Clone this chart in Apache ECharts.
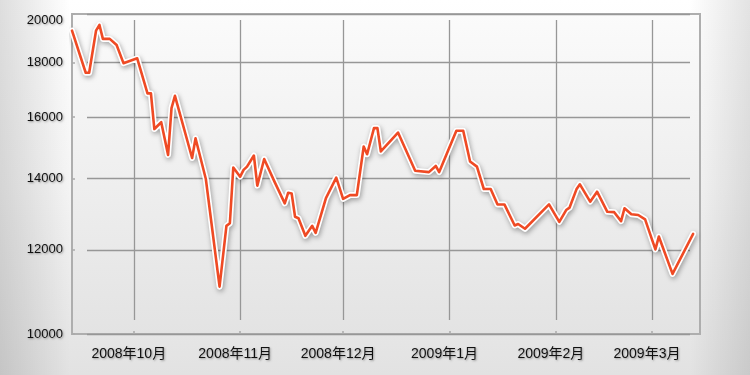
<!DOCTYPE html>
<html>
<head>
<meta charset="utf-8">
<script src="https://cdn.jsdelivr.net/npm/echarts@6/dist/echarts.min.js"></script>
<style>
  html, body { margin: 0; padding: 0; background: #fff; }
  #chart { width: 750px; height: 375px; }
</style>
</head>
<body>
<div id="chart"></div>
<script>
// ---- data ----
const dates = [
  '2008-09-13','2008-09-17','2008-09-18','2008-09-20','2008-09-21','2008-09-22','2008-09-24','2008-09-26','2008-09-28',
  '2008-10-02','2008-10-05','2008-10-06','2008-10-07','2008-10-09','2008-10-11','2008-10-12','2008-10-13','2008-10-18',
  '2008-10-19','2008-10-22','2008-10-26','2008-10-28','2008-10-29','2008-10-30',
  '2008-11-01','2008-11-02','2008-11-03','2008-11-05','2008-11-06','2008-11-08','2008-11-11','2008-11-14','2008-11-15',
  '2008-11-16','2008-11-17','2008-11-18','2008-11-20','2008-11-22','2008-11-23','2008-11-26','2008-11-29',
  '2008-12-01','2008-12-03','2008-12-05','2008-12-07','2008-12-08','2008-12-10','2008-12-11','2008-12-12','2008-12-17',
  '2008-12-22','2008-12-26','2008-12-28','2008-12-29',
  '2009-01-03','2009-01-05','2009-01-07','2009-01-09','2009-01-11','2009-01-13','2009-01-15','2009-01-17','2009-01-20',
  '2009-01-21','2009-01-23','2009-01-30',
  '2009-02-02','2009-02-04','2009-02-05','2009-02-07','2009-02-08','2009-02-11','2009-02-13','2009-02-16','2009-02-18',
  '2009-02-20','2009-02-21','2009-02-23','2009-02-25','2009-02-27',
  '2009-03-02','2009-03-03','2009-03-07','2009-03-13'
];
const values = [
  19290,17610,17610,19290,19530,18950,18950,18700,17980,
  18170,16840,16840,15590,15820,14740,16310,16750,14640,
  15280,13990,11080,12640,12710,14340,
  14060,14270,14370,14720,13790,14610,13910,13270,13580,
  13560,12890,12850,12370,12640,12450,13420,14030,
  13400,13510,13510,15010,14760,15620,15620,14850,15470,
  14240,14200,14390,14200,
  15530,15530,14530,14370,13690,13690,13240,13240,12650,
  12690,12560,13240,
  12750,13080,13150,13680,13830,13320,13610,13030,13020,
  12770,13130,12960,12940,12820,
  12010,12350,11390,12420
];
const monthTicks = ['2008-10-01','2008-11-01','2008-12-01','2009-01-01','2009-02-01','2009-03-01'];
const yTicks = [10000, 12000, 14000, 16000, 18000, 20000];
const xRange = ['2008-09-13', '2009-03-15'];
const yRange = [10000, 20000];

// ---- helpers ----
function t(s) { const p = s.split('-').map(Number); return new Date(p[0], p[1] - 1, p[2]).getTime(); }
const seriesData = dates.map((d, i) => [t(d), values[i]]);
const monthVals = monthTicks.map(t);
const FONT = '"Liberation Sans", "Noto Sans CJK JP", sans-serif';
const labelShadow = { textShadowColor: 'rgba(0,0,0,0.35)', textShadowBlur: 2, textShadowOffsetX: 1, textShadowOffsetY: 1 };

const chart = echarts.init(document.getElementById('chart'), null, { renderer: 'canvas' });
chart.setOption({
  animation: false,
  backgroundColor: new echarts.graphic.LinearGradient(0, 0, 0, 1, [
    { offset: 0, color: '#ffffff' }, { offset: 0.5, color: '#f4f4f4' }, { offset: 1, color: '#e2e2e2' }
  ]),
  graphic: [
    { type: 'rect', left: 0, top: 0, shape: { width: 70, height: 375 }, silent: true, z: -10,
      style: { fill: new echarts.graphic.LinearGradient(0, 0, 1, 0, [
        { offset: 0, color: 'rgba(0,0,0,0.13)' }, { offset: 1, color: 'rgba(0,0,0,0)' }]) } },
    { type: 'rect', right: 0, top: 0, shape: { width: 60, height: 375 }, silent: true, z: -10,
      style: { fill: new echarts.graphic.LinearGradient(1, 0, 0, 0, [
        { offset: 0, color: 'rgba(0,0,0,0.11)' }, { offset: 1, color: 'rgba(0,0,0,0)' }]) } }
  ],
  grid: [
    { left: 72, right: 50, top: 14, bottom: 41, show: true, borderColor: '#aeaeae', borderWidth: 2,
      backgroundColor: new echarts.graphic.LinearGradient(0, 0, 0, 1, [
        { offset: 0, color: '#fbfbfb' }, { offset: 1, color: '#e3e3e3' }]) },
    { left: 72, right: 50, top: 20, bottom: 55 },
    { left: 87, right: 60, top: 14, bottom: 41 }
  ],
  xAxis: [
    { type: 'value', gridIndex: 0, min: t(xRange[0]), max: t(xRange[1]),
      axisLine: { show: false },
      axisTick: { show: true, inside: true, length: 3, customValues: monthVals, lineStyle: { color: '#aaa', width: 1.5 } },
      splitLine: { show: false },
      axisLabel: { customValues: monthVals, fontSize: 14, fontFamily: FONT, color: '#111', margin: 13,
        padding: [0, 10, 0, 0], ...labelShadow,
        formatter: v => { const d = new Date(v); return d.getFullYear() + '年' + (d.getMonth() + 1) + '月'; } } },
    { type: 'value', gridIndex: 1, min: t(xRange[0]), max: t(xRange[1]),
      axisLine: { show: false }, axisLabel: { show: false },
      axisTick: { show: false, customValues: monthVals },
      splitLine: { show: true, lineStyle: { color: '#979797', width: 1.3 } } },
    { type: 'value', gridIndex: 2, min: 0, max: 1, show: false, splitLine: { show: false } }
  ],
  yAxis: [
    { type: 'log', logBase: 10, gridIndex: 0, min: yRange[0], max: yRange[1],
      axisLine: { show: false },
      axisTick: { show: true, inside: true, length: 3, customValues: yTicks, lineStyle: { color: '#aaa', width: 1.5 } },
      splitLine: { show: false },
      axisLabel: { customValues: yTicks, fontSize: 13, fontFamily: FONT, color: '#111', margin: 9, ...labelShadow,
        verticalAlignMaxLabel: 'top',
        formatter: v => String(Math.round(v)) } },
    { type: 'value', gridIndex: 1, min: 0, max: 1, show: false, splitLine: { show: false } },
    { type: 'log', logBase: 10, gridIndex: 2, min: yRange[0], max: yRange[1],
      axisLine: { show: false }, axisLabel: { show: false },
      axisTick: { show: false, customValues: yTicks },
      splitLine: { show: true, lineStyle: { color: '#979797', width: 1.3 } } }
  ],
  series: [
    { type: 'line', xAxisIndex: 0, yAxisIndex: 0, data: seriesData, symbol: 'none', silent: true, z: 3,
      lineStyle: { color: '#ffffff', width: 6, shadowColor: 'rgba(0,0,0,0.35)', shadowBlur: 5, shadowOffsetY: 2, shadowOffsetX: 1,
        join: 'round', cap: 'round' } },
    { type: 'line', xAxisIndex: 0, yAxisIndex: 0, data: seriesData, symbol: 'none', silent: true, z: 4,
      lineStyle: { color: '#ef4a24', width: 2.6, join: 'round', cap: 'round' } }
  ]
});
</script>
</body>
</html>
